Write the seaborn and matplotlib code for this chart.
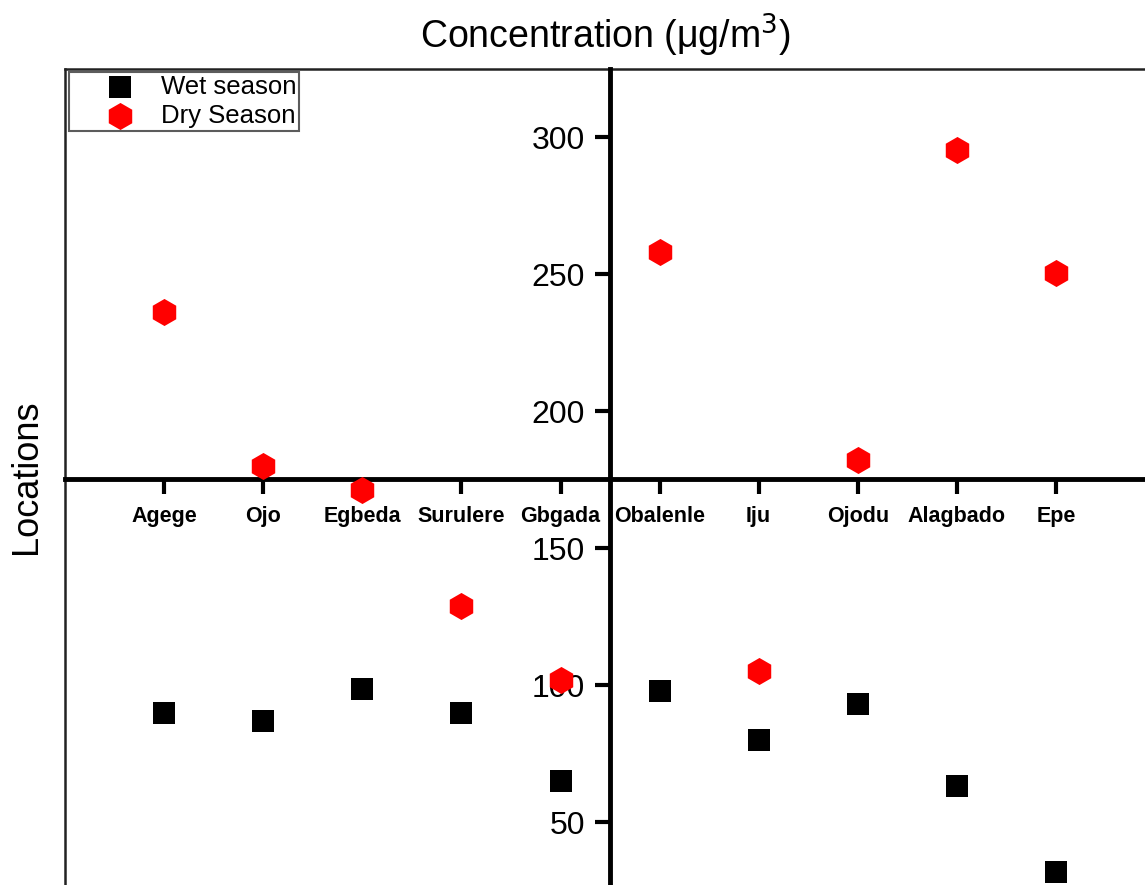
import pandas as pd
import matplotlib
matplotlib.use("Agg")
import matplotlib.pyplot as plt
import seaborn as sns

# values
locations = ["Agege", "Ojo", "Egbeda", "Surulere", "Gbgada",
             "Obalenle", "Iju", "Ojodu", "Alagbado", "Epe"]
wet_season = [89.8, 86.9, 98.5, 89.8, 65.0, 97.8, 79.9, 93.1, 63.1, 31.8]
dry_season = [236.1, 179.9, 171.2, 128.8, 101.8, 258.0, 105.1, 182.1, 295.3, 250.4]
y_ticks = [50, 100, 150, 200, 250, 300]

wet_df = pd.DataFrame({"Location": locations, "Conc": wet_season})
dry_df = pd.DataFrame({"Location": locations, "Conc": dry_season})

sns.set_style("white")
plt.rcParams["font.family"] = ["Liberation Sans", "DejaVu Sans"]
plt.rcParams["text.color"] = "black"
plt.rcParams["axes.labelcolor"] = "black"

fig = plt.figure(figsize=(11.45, 8.85), dpi=100)
ax = fig.add_axes([0.057, 0.0, 0.943, 0.922])

sns.scatterplot(data=wet_df, x="Location", y="Conc", marker="s", s=260,
                color="black", edgecolor="black", linewidth=0,
                label="Wet season", ax=ax, zorder=5)
sns.scatterplot(data=dry_df, x="Location", y="Conc", marker="h", s=380,
                color="red", edgecolor="red", linewidth=0,
                label="Dry Season", ax=ax, zorder=5)

ax.set_xlim(-1.0, 9.9)
ax.set_ylim(27, 325)

# axes crossing in the middle of the chart
ax.spines["left"].set_position(("data", 4.5))
ax.spines["bottom"].set_position(("data", 175.2))
for side in ["left", "bottom"]:
    ax.spines[side].set_linewidth(3.5)
    ax.spines[side].set_color("black")
    ax.spines[side].set_zorder(3)
# right spine reused as the left frame border
ax.spines["right"].set_position(("axes", 0.0))
ax.spines["right"].set_linewidth(1.8)
ax.spines["right"].set_color("#222222")
ax.spines["top"].set_linewidth(1.8)
ax.spines["top"].set_color("#222222")

ax.set_yticks(y_ticks)
ax.set_yticklabels([str(v) for v in y_ticks])
ax.tick_params(axis="y", which="both", left=True, right=False, direction="out",
               length=11, width=3, labelsize=23, pad=7, colors="black")
ax.tick_params(axis="x", bottom=True, top=False, direction="out",
               length=11, width=3, pad=8, colors="black")
for lab in ax.get_xticklabels():
    lab.set_fontsize(15.5)
    lab.set_fontweight("bold")

ax.set_xlabel("")
ax.set_ylabel("Locations", fontsize=26)
ax.yaxis.set_label_coords(-0.02, 0.5)
ax.set_title("Concentration (μg/m$^3$)", fontsize=27, pad=15)

leg = ax.legend(loc="upper left", bbox_to_anchor=(0.003, 0.996), fontsize=18.5,
                frameon=True, fancybox=False, edgecolor="#333333",
                borderpad=0.1, labelspacing=0.2, handletextpad=-0.3,
                handlelength=3.8, borderaxespad=0.0, markerscale=1.0)
leg.get_frame().set_linewidth(1.5)

fig.savefig("out.png", dpi=100)
